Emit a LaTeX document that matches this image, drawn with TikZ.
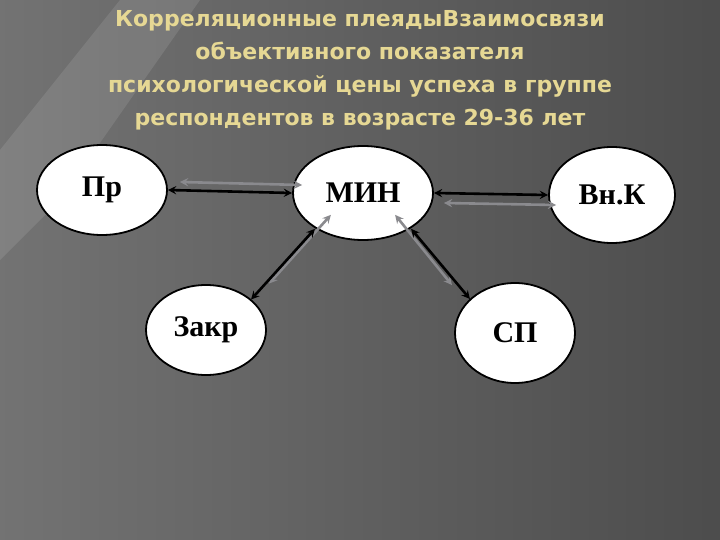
\documentclass[tikz,border=0pt]{standalone}
\usepackage{fontspec}
\usetikzlibrary{shapes.geometric}
\setmainfont{Liberation Serif}
\newfontfamily\titlefont{DejaVu Sans Bold}
\definecolor{titlecol}{HTML}{E6D894}
\definecolor{grayarrow}{HTML}{8A8A8E}
\begin{document}
\begin{tikzpicture}[x=1pt,y=-1pt,
  bub/.style={ellipse,draw=black,line width=1.8pt,fill=white,inner sep=0pt,font=\bfseries\fontsize{30}{32}\selectfont},
  blk/.style={<->,>=stealth,line width=2.6pt,black},
  gry/.style={<->,>=stealth,line width=2.6pt,grayarrow}]
\shade[left color=black!55,right color=black!70] (0,0) rectangle (720,540);
\fill[white,opacity=0.10] (0,150) -- (120,0) -- (200,0) -- (60,200) -- (0,260) -- cycle;
\useasboundingbox (0,0) rectangle (720,540);
\node[font=\titlefont\fontsize{22}{33}\selectfont,text=titlecol,align=center] (title) at (360,70)
 {Корреляционные плеядыВзаимосвязи\\объективного показателя\\психологической цены успеха в группе\\респондентов в возрасте 29-36 лет};
\node[bub,minimum width=130pt,minimum height=90pt] (pr) at (102,190) {Пр};
\node[bub,minimum width=140pt,minimum height=94pt] (min) at (363,193) {МИН};
\node[bub,minimum width=126pt,minimum height=96pt] (vnk) at (612,195) {Вн.К};
\node[bub,minimum width=120pt,minimum height=90pt] (zakr) at (206,330) {Закр};
\node[bub,minimum width=120pt,minimum height=100pt] (sp) at (515,333) {СП};
\draw[gry] ([xshift=12pt,yshift=8pt]pr.east) -- ([xshift=10pt,yshift=8pt]min.west);
\draw[blk] (pr.east) -- (min.west);
\draw[gry] ([xshift=10pt,yshift=-10pt]min.east) -- ([xshift=8pt,yshift=-10pt]vnk.west);
\draw[blk] (min.east) -- (vnk.west);
\draw[gry] ([xshift=18pt,yshift=12pt]min.south west) -- ([xshift=20pt,yshift=14pt]zakr.north east);
\draw[blk] ([xshift=2pt,yshift=-2pt]min.south west) -- ([xshift=2pt,yshift=-2pt]zakr.north east);
\draw[gry] ([xshift=-18pt,yshift=12pt]min.south east) -- ([xshift=-20pt,yshift=12pt]sp.north west);
\draw[blk] ([xshift=-2pt,yshift=-2pt]min.south east) -- ([xshift=-2pt,yshift=-2pt]sp.north west);
\end{tikzpicture}
\end{document}
